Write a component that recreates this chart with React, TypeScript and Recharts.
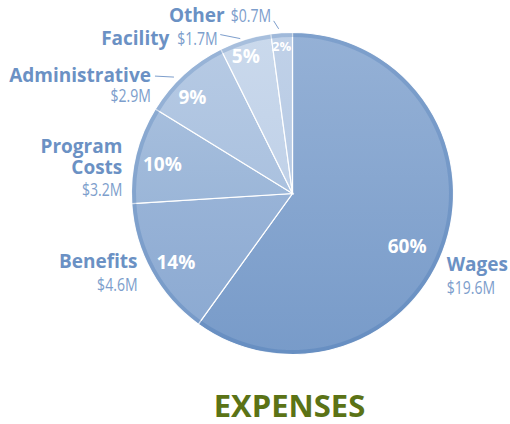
import { Cell, Pie, PieChart } from 'recharts'

const categories = ['Wages', 'Benefits', 'Program Costs', 'Administrative', 'Facility', 'Other']
const amounts = [19.6, 4.6, 3.2, 2.9, 1.7, 0.7]

const rows = categories.map((name, i) => ({ name, value: amounts[i] }))

// slice colours: [top, bottom] for the face
const faceColors = [
  ['#95b1d6', '#789bc9'],
  ['#98b3d7', '#8caad2'],
  ['#a6bedd', '#9bb6d8'],
  ['#b6cae4', '#aac1df'],
  ['#cad9ec', '#c0d1e8'],
  ['#c0d1e8', '#b7cae4'],
]

const NAME_COLOR = '#6b91c4'
const VALUE_COLOR = '#7d9ecc'
const RAD = Math.PI / 180

// label placement relative to the rim point at the slice's mid angle
type Layout = {
  anchor: 'start' | 'end'
  dx: number
  dy: number
  valueDx?: number // inline labels: where the amount starts
  gap?: number
  leader?: [number, number, number, number]
  pct: [number, number]
}
const layouts: Layout[] = [
  { anchor: 'start', dx: 1, dy: 28, gap: 23, pct: [-11, 12] },
  { anchor: 'end', dx: -14, dy: -3, gap: 23, pct: [-1, 5] },
  { anchor: 'end', dx: -14, dy: -1, gap: 22, pct: [-2, 3] },
  { anchor: 'end', dx: -33, dy: 7, gap: 20, leader: [-10, 2.5, -29, 1.5], pct: [-11, 1] },
  { anchor: 'end', dx: -76, dy: 5, valueDx: -68, leader: [-5, -1, -25, -5], pct: [-8, -11] },
  { anchor: 'end', dx: -57, dy: -11, valueDx: -51, leader: [-3, -4, -8, -12], pct: [-2, -16] },
]

const nameFont = { fontFamily: '"Open Sans", sans-serif', fontWeight: 700, fontSize: 19 }
const valueFont = { fontFamily: '"Open Sans", sans-serif', fontSize: 19 }

function Amount({ x, y, anchor, text }: { x: number; y: number; anchor: string; text: string }) {
  // the original uses a condensed face, so squeeze horizontally
  return (
    <text transform={`translate(${x},${y}) scale(0.74,1)`} textAnchor={anchor} fill={VALUE_COLOR} style={valueFont}>
      {text}
    </text>
  )
}

function renderLabel(props: any) {
  const { cx, cy, midAngle, outerRadius, index, percent, name, value } = props
  const lay = layouts[index]
  const cos = Math.cos(-midAngle * RAD)
  const sin = Math.sin(-midAngle * RAD)
  const px = cx + outerRadius * cos
  const py = cy + outerRadius * sin
  const ix = cx + outerRadius * 0.82 * cos + lay.pct[0]
  const iy = cy + outerRadius * 0.82 * sin + lay.pct[1]
  const x = px + lay.dx
  const y = py + lay.dy
  const amount = `$${value}M`
  const nameLines = index === 2 ? name.split(' ') : [name]
  const gap = lay.gap ?? 22

  return (
    <g>
      <text
        x={ix}
        y={iy}
        fill="#fff"
        textAnchor="middle"
        dominantBaseline="central"
        style={{ ...nameFont, fontSize: index === 5 ? 13 : 19 }}
      >
        {`${Math.round(percent * 100)}%`}
      </text>
      {lay.leader && (
        <line
          x1={px + lay.leader[0]}
          y1={py + lay.leader[1]}
          x2={px + lay.leader[2]}
          y2={py + lay.leader[3]}
          stroke={VALUE_COLOR}
          strokeWidth={1}
        />
      )}
      {nameLines.map((line: string, k: number) => (
        <text key={k} x={x} y={y + k * 21} textAnchor={lay.anchor} fill={NAME_COLOR} style={nameFont}>
          {line}
        </text>
      ))}
      {lay.valueDx !== undefined ? (
        <Amount x={px + lay.valueDx} y={y} anchor="start" text={amount} />
      ) : (
        <Amount x={x} y={y + (nameLines.length - 1) * 21 + gap} anchor={lay.anchor} text={amount} />
      )}
    </g>
  )
}

export default function App() {
  return (
    <div style={{ width: 510, height: 424, background: '#fff' }}>
      <style>{'body{margin:0}'}</style>
      <PieChart width={510} height={424} margin={{ top: 0, right: 0, bottom: 0, left: 0 }}>
        <defs>
          {faceColors.map((c, i) => (
            <linearGradient key={i} id={`face${i}`} x1="0" y1="0" x2="0" y2="1">
              <stop offset="0%" stopColor={c[0]} />
              <stop offset="100%" stopColor={c[1]} />
            </linearGradient>
          ))}
        </defs>
        <Pie
          data={rows}
          dataKey="value"
          nameKey="name"
          cx={292.5}
          cy={193.5}
          outerRadius={161}
          startAngle={90}
          endAngle={-270}
          stroke="#fff"
          strokeWidth={1.2}
          isAnimationActive={false}
          labelLine={false}
          label={renderLabel}
        >
          {rows.map((r, i) => (
            <Cell key={r.name} fill={`url(#face${i})`} />
          ))}
        </Pie>
        {/* darker rim round the edge */}
        <Pie
          data={rows}
          dataKey="value"
          nameKey="name"
          cx={292.5}
          cy={193.5}
          innerRadius={156.5}
          outerRadius={160.6}
          startAngle={90}
          endAngle={-270}
          stroke="none"
          fill="#2f64aa"
          fillOpacity={0.22}
          isAnimationActive={false}
        />
        <text
          x={289.5}
          y={417}
          textAnchor="middle"
          fill="#5b7316"
          style={{ fontFamily: '"Open Sans", sans-serif', fontWeight: 700, fontSize: 31 }}
        >
          EXPENSES
        </text>
      </PieChart>
    </div>
  )
}
